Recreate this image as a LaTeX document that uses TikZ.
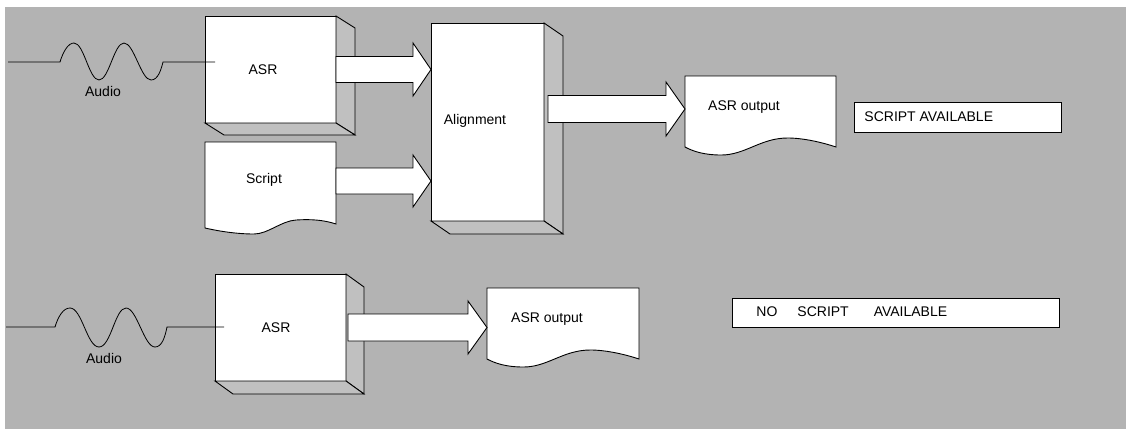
\documentclass[tikz,border=0pt]{standalone}
\usepackage{fontspec}
\setmainfont{Liberation Sans}
\usetikzlibrary{calc}
\definecolor{bggray}{RGB}{179,179,179}
\definecolor{sidegray}{RGB}{192,192,192}
\newcommand\blockarrow[5]{%
  \draw[arrowbody] let \p1=(#1), \p2=(#2) in
    (\x1,\y2+#3) -- (\x2-#5,\y2+#3) -- (\x2-#5,\y2+#4) -- (\p2)
    -- (\x2-#5,\y2-#4) -- (\x2-#5,\y2-#3) -- (\x1,\y2-#3) -- cycle;}
\newcommand\docoutline[2]{%
  \draw[docline] (#1.south west) -- (#1.north west) -- (#1.north east) -- (#1.south east)
   .. controls ($(#1.south west)+({0.9*#2},-5)$) and ($(#1.south west)+({0.78*#2},-9)$) .. ($(#1.south west)+({0.68*#2},-9)$)
   .. controls ($(#1.south west)+({0.5*#2},-9)$) and ($(#1.south west)+({0.4*#2},8)$) .. ($(#1.south west)+({0.24*#2},8)$)
   .. controls ($(#1.south west)+({0.12*#2},8)$) and ($(#1.south west)+({0.05*#2},4)$) .. (#1.south west) -- cycle;}
\newcommand\extrude[3]{%
  \draw[sideface] (#1.north east) -- ++(#2,#3) -- ($(#1.south east)+(#2,#3)$) -- (#1.south east) -- cycle;
  \draw[sideface] (#1.south west) -- ++(#2,#3) -- ($(#1.south east)+(#2,#3)$) -- (#1.south east) -- cycle;}
\begin{document}
\begin{tikzpicture}[x=1pt,y=-1pt,line width=0.9pt,
  txt/.style={inner sep=0pt,font=\fontsize{14}{16}\selectfont},
  face/.style={draw=black,fill=white,rectangle,inner sep=0pt,outer sep=0pt},
  docbox/.style={rectangle,inner sep=0pt,outer sep=0pt},
  docline/.style={draw=black,fill=white},
  sideface/.style={draw=black,fill=sidegray},
  arrowbody/.style={draw=black,fill=white,line join=miter},
  wire/.style={draw=black,line width=0.8pt}]
\useasboundingbox (0,0) rectangle (1127,429);
\fill[bggray] (5,7) rectangle (1126,429);

% ---- top row ----
\node[face,minimum width=131,minimum height=107] (asr1) at (270.5,69.5) {};
\extrude{asr1}{19}{12}
\node[face,minimum width=113,minimum height=198] (align) at (487.5,122) {};
\extrude{align}{19}{13}
\node[docbox,minimum width=131,minimum height=86] (script) at (270.5,185) {};
\draw[docline] (script.south west) -- (script.north west) -- (script.north east)
   -- ($(script.south east)+(0,-4)$)
   .. controls ($(script.south east)+(-12,-8)$) and ($(script.south east)+(-25,-9)$) .. ($(script.south east)+(-40,-8)$)
   .. controls ($(script.south east)+(-55,-7)$) and ($(script.south east)+(-68,6)$) .. ($(script.south east)+(-82,6)$)
   .. controls ($(script.south east)+(-100,6)$) and ($(script.south east)+(-118,3)$) .. (script.south west) -- cycle;
\node[docbox,minimum width=151,minimum height=71] (out1) at (760.5,111.5) {};
\docoutline{out1}{151}

\node[txt] (asr1t) at (263,70) {ASR};
\node[txt] (scriptt) at (264,180) {Script};
\node[txt] (alignt) at (475,121) {Alignment};
\node[txt] (out1t) at (744,107) {ASR output};

\blockarrow{asr1.east}{align.west |- asr1.east}{13pt}{26.5pt}{18pt}
\blockarrow{script.east}{$(align.west |- script.north)+(0,39)$}{13pt}{26pt}{18pt}
\blockarrow{$(align.east)+(4,0)$}{$(out1.west)+(0,-2.5)$}{13.5pt}{27pt}{19pt}

\coordinate (a1s) at (8,62);
\coordinate (a1e) at (215,62);
\draw[wire] (a1s) -- (60,62) .. controls (63,52) and (68,43) .. (74,43)
  .. controls (84,43) and (89,80) .. (99,80) .. controls (109,80) and (114,43) .. (124,43)
  .. controls (134,43) and (141,80) .. (151,80) .. controls (158,80) and (161,70) .. (163,62) -- (a1e);
\node[txt] (audio1) at (103,91) {Audio};

\node[face,minimum width=207,minimum height=30] (sa) at (957.5,117) {};
\node[txt,anchor=west] (sat) at (864,117) {SCRIPT AVAILABLE};

% ---- bottom row ----
\node[face,minimum width=131,minimum height=107] (asr2) at (280.5,327.5) {};
\extrude{asr2}{18}{13}
\node[docbox,minimum width=152,minimum height=71] (out2) at (563,323.5) {};
\docoutline{out2}{152}
\node[txt] (asr2t) at (276,328) {ASR};
\node[txt] (out2t) at (547,319) {ASR output};

\blockarrow{$(asr2.east)+(2,0)$}{out2.west |- asr2.east}{13.5pt}{26.5pt}{19pt}

\coordinate (a2s) at (6,327);
\coordinate (a2e) at (224,327);
\draw[wire] (a2s) -- (55,327) .. controls (58,317) and (63,308) .. (70,308)
  .. controls (82,308) and (87,347) .. (99,347) .. controls (111,347) and (115,308) .. (126,308)
  .. controls (137,308) and (144,347) .. (155,347) .. controls (162,347) and (165,337) .. (167,327) -- (a2e);
\node[txt] (audio2) at (104,358) {Audio};

\node[face,minimum width=327,minimum height=29] (nsa) at (895.5,312.5) {};
\node[txt,anchor=west] (nsat) at (756,312) {NO\hspace{20pt}SCRIPT\hspace{25pt}AVAILABLE};
\end{tikzpicture}
\end{document}
